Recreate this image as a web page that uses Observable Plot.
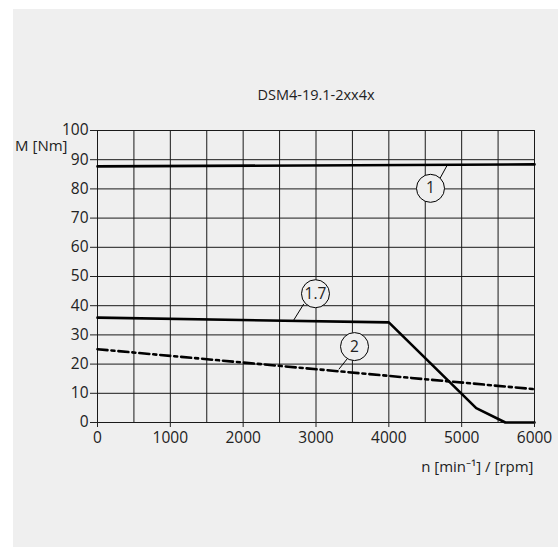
<!DOCTYPE html>
<html><head><meta charset="utf-8">
<script src="https://cdn.jsdelivr.net/npm/d3@7"></script>
<script src="https://cdn.jsdelivr.net/npm/@observablehq/plot@0.6"></script>
<style>
body{margin:0;background:#fff}
#bg{position:absolute;left:13px;top:9px;right:0;bottom:0;background:#efefef}
#chart{position:absolute;left:0;top:0}
</style>
</head><body><div id="bg"></div><div id="chart"></div>
<script>
const title = "DSM4-19.1-2xx4x";
const yLabel = "M [Nm]";
const xLabel = "n [min\u207B\u00B9] / [rpm]";

const xTicks = [0, 1000, 2000, 3000, 4000, 5000, 6000];
const yTicks = [0, 10, 20, 30, 40, 50, 60, 70, 80, 90, 100];
const xGrid = [0, 500, 1000, 1500, 2000, 2500, 3000, 3500, 4000, 4500, 5000, 5500, 6000];

const speed1 = [0, 6000];
const torque1 = [87.7, 88.4];
const speed17 = [0, 4000, 5200, 5600, 6000];
const torque17 = [35.9, 34.3, 4.9, 0, 0];
const speed2 = [0, 6000];
const torque2 = [25.1, 11.4];

const labelNames = ["1", "1.7", "2"];
const labelX = [4572, 2993, 3529];
const labelY = [80.2, 44.1, 26.0];
const leaderX1 = [4700, 2832, 3428];
const leaderY1 = [83.5, 40.6, 21.8];
const leaderX2 = [4801, 2695, 3313];
const leaderY2 = [88.1, 35.1, 18.2];

const c1 = speed1.map((x, i) => ({x, y: torque1[i]}));
const c17 = speed17.map((x, i) => ({x, y: torque17[i]}));
const c2 = speed2.map((x, i) => ({x, y: torque2[i]}));
const labels = labelNames.map((t, i) => ({t, x: labelX[i], y: labelY[i], x1: leaderX1[i], y1: leaderY1[i], x2: leaderX2[i], y2: leaderY2[i]}));

const chart = Plot.plot({
  width: 558,
  height: 547,
  marginTop: 130,
  marginLeft: 97,
  marginRight: 24,
  marginBottom: 125,
  style: {background: "transparent", fontFamily: "'Open Sans', 'Noto Sans', sans-serif", fontSize: "15px", color: "#222"},
  x: {domain: [0, 6000]},
  y: {domain: [0, 100]},
  marks: [
    Plot.ruleX(xGrid, {stroke: "#1a1a1a", strokeWidth: 1}),
    Plot.ruleY(yTicks, {stroke: "#1a1a1a", strokeWidth: 1}),
    Plot.line(c1, {x: "x", y: "y", stroke: "#000", strokeWidth: 2.6}),
    Plot.line(c17, {x: "x", y: "y", stroke: "#000", strokeWidth: 2.6, strokeLinejoin: "miter"}),
    Plot.line(c2, {x: "x", y: "y", stroke: "#000", strokeWidth: 2.6, strokeDasharray: "10,4,3,4"}),
    Plot.link(labels, {x1: "x1", y1: "y1", x2: "x2", y2: "y2", stroke: "#000", strokeWidth: 1}),
    Plot.dot(labels, {x: "x", y: "y", r: 14, fill: "#efefef", stroke: "#000", strokeWidth: 1}),
    Plot.text(labels, {x: "x", y: "y", text: "t", fontSize: 15.5, fill: "#222"}),
    Plot.axisY({ticks: yTicks, tickSize: 7, tickPadding: 2, label: null, fontSize: 15.5}),
    Plot.axisX({ticks: xTicks, tickSize: 5, tickPadding: 4, label: null, fontSize: 15.5, tickFormat: d => String(d)}),
    Plot.text([title], {frameAnchor: "top", lineAnchor: "middle", dy: -35, fontSize: 14.5, fill: "#222"}),
    Plot.text([yLabel], {frameAnchor: "top-left", lineAnchor: "middle", dx: -30, dy: 16, textAnchor: "end", fontSize: 15, fill: "#222"}),
    Plot.text([xLabel], {frameAnchor: "bottom-right", lineAnchor: "middle", dx: -1, dy: 45, textAnchor: "end", fontSize: 15, fill: "#222"})
  ]
});
document.getElementById("chart").append(chart);
</script></body></html>
